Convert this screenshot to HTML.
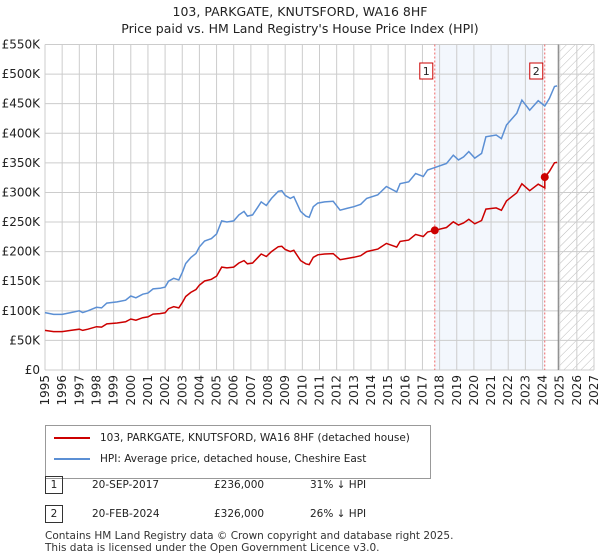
<!DOCTYPE html>
<html><head><meta charset="utf-8"><style>
body{margin:0;background:#fff;font-family:"DejaVu Sans","Liberation Sans",sans-serif;}
#wrap{position:relative;width:600px;height:560px;overflow:hidden;}
</style></head><body><div id="wrap">
<svg id="chart" width="600" height="560" style="position:absolute;left:0;top:0;font-family:'DejaVu Sans','Liberation Sans',sans-serif">
<defs><pattern id="hatch" width="6" height="6" patternUnits="userSpaceOnUse" patternTransform="rotate(45)"><line x1="0" y1="0" x2="0" y2="6" stroke="#bbb" stroke-width="1"/></pattern></defs>
<text x="300" y="16" text-anchor="middle" font-size="12.5" fill="#222">103, PARKGATE, KNUTSFORD, WA16 8HF</text>
<text x="300" y="33" text-anchor="middle" font-size="12.5" fill="#222">Price paid vs. HM Land Registry's House Price Index (HPI)</text>
<g id="plot"></g>
</svg>
<div style="position:absolute;left:45px;top:425px;width:386px;height:54px;border:1px solid #999;box-sizing:border-box;font-size:10.5px;color:#222">
 <div style="position:absolute;left:8px;top:6px;white-space:nowrap"><span style="display:inline-block;width:36px;height:2px;background:#cc0000;vertical-align:middle;margin-right:10px"></span>103, PARKGATE, KNUTSFORD, WA16 8HF (detached house)</div>
 <div style="position:absolute;left:8px;top:27px;white-space:nowrap"><span style="display:inline-block;width:36px;height:2px;background:#5b8fd4;vertical-align:middle;margin-right:10px"></span>HPI: Average price, detached house, Cheshire East</div>
</div>
<div style="font-size:10.5px;color:#222">
 <div style="position:absolute;left:45px;top:476px;width:16px;height:16px;border:1px solid #333;text-align:center;line-height:16px">1</div>
 <div style="position:absolute;left:92px;top:479px">20-SEP-2017</div>
 <div style="position:absolute;left:214px;top:479px">£236,000</div>
 <div style="position:absolute;left:310px;top:479px">31% ↓ HPI</div>
 <div style="position:absolute;left:45px;top:505px;width:16px;height:16px;border:1px solid #333;text-align:center;line-height:16px">2</div>
 <div style="position:absolute;left:92px;top:508px">20-FEB-2024</div>
 <div style="position:absolute;left:214px;top:508px">£326,000</div>
 <div style="position:absolute;left:310px;top:508px">26% ↓ HPI</div>
</div>
<div style="position:absolute;left:45px;top:530px;font-size:10.5px;color:#333;line-height:12px;white-space:nowrap">Contains HM Land Registry data © Crown copyright and database right 2025.<br>This data is licensed under the Open Government Licence v3.0.</div>
</div>
<script>
const hpiYears=[1995,1995.5,1996,1996.5,1997,1997.2,1997.5,1998,1998.3,1998.6,1999.2,1999.7,2000,2000.3,2000.7,2001,2001.3,2001.7,2002,2002.2,2002.5,2002.8,2003,2003.2,2003.5,2003.8,2004,2004.3,2004.7,2005,2005.3,2005.6,2006,2006.3,2006.6,2006.8,2007.1,2007.4,2007.6,2007.9,2008.2,2008.6,2008.8,2009,2009.3,2009.5,2009.9,2010.2,2010.4,2010.64,2010.9,2011.3,2011.8,2012.2,2012.6,2013,2013.4,2013.75,2014.4,2014.9,2015.5,2015.7,2016.2,2016.6,2017.05,2017.3,2017.72,2018.4,2018.8,2019.1,2019.4,2019.7,2020.05,2020.45,2020.7,2021.3,2021.6,2021.9,2022.5,2022.8,2023.25,2023.75,2024.13,2024.4,2024.7,2024.85];
const hpiValues=[97,94,94,97,100,97,100,106,105,113,115,118,125,122,128,130,137,138,140,150,155,152,165,180,190,197,208,218,222,230,252,250,252,262,268,260,262,275,284,278,290,302,303,295,290,293,268,260,258,276,282,284,285,270,273,276,280,290,296,310,301,315,318,332,327,338,342,349,363,355,360,369,358,366,394,397,391,414,434,456,439,455,446,459,479,480];
const saleYears=[2017.72,2024.13];
const saleValues=[236,326];
const saleLabels=["1","2"];
const yTicks=[0,50,100,150,200,250,300,350,400,450,500,550];
const yTickLabels=["£0","£50K","£100K","£150K","£200K","£250K","£300K","£350K","£400K","£450K","£500K","£550K"];
const xTicks=[1995,1996,1997,1998,1999,2000,2001,2002,2003,2004,2005,2006,2007,2008,2009,2010,2011,2012,2013,2014,2015,2016,2017,2018,2019,2020,2021,2022,2023,2024,2025,2026,2027];
const dataEnd=2024.92;
const X0=45,X1=594,Y0=370,Y1=44.5;
const sx=y=>X0+(y-1995)/32*(X1-X0);
const sy=v=>Y0-v/550*(Y0-Y1);
const NS="http://www.w3.org/2000/svg";
const g=document.getElementById('plot');
function mk(t,a,p){const e=document.createElementNS(NS,t);for(const k in a)e.setAttribute(k,a[k]);(p||g).appendChild(e);return e;}
let r=mk('rect',{x:sx(saleYears[0]),y:Y1,width:sx(saleYears[1])-sx(saleYears[0]),height:Y0-Y1,fill:'#eef3fc',opacity:0.7});

r=mk('rect',{x:sx(dataEnd),y:Y1,width:X1-sx(dataEnd),height:Y0-Y1,fill:'url(#hatch)'});

yTicks.forEach((t,i)=>{const l=mk('line',{x1:X0,x2:X1,y1:sy(t),y2:sy(t),stroke:'#ccc'});

const tx=mk('text',{x:X0-5,y:sy(t)+4,'text-anchor':'end','font-size':12,fill:'#222'});tx.textContent=yTickLabels[i];
});
xTicks.forEach(t=>{const l=mk('line',{x1:sx(t),x2:sx(t),y1:Y1,y2:Y0,stroke:'#ccc'});

const tx=mk('text',{x:0,y:0,'text-anchor':'end','font-size':12,fill:'#222',transform:`translate(${sx(t)+4},${Y0+5}) rotate(-90)`});tx.textContent=t;
});
let dl=mk('line',{x1:sx(dataEnd),x2:sx(dataEnd),y1:Y1,y2:Y0,stroke:'#888','stroke-width':1.2});

saleYears.forEach((y,i)=>{const l=mk('line',{x1:sx(y),x2:sx(y),y1:Y1,y2:Y0,stroke:'#e66','stroke-dasharray':'2,2'});

const b=mk('rect',{x:sx(y)-15,y:63,width:13,height:16,fill:'#fff',stroke:'#cc0000'});

const t=mk('text',{x:sx(y)-8.5,y:75,'text-anchor':'middle','font-size':11,fill:'#222'});t.textContent=saleLabels[i];
});
let d=hpiYears.map((y,i)=>(i?'L':'M')+sx(y).toFixed(1)+','+sy(hpiValues[i]).toFixed(1)).join('');
let p=mk('path',{d:d,fill:'none',stroke:'#5b8fd4','stroke-width':1.5});

function hpiAt(y){for(let i=1;i<hpiYears.length;i++){if(hpiYears[i]>=y){const f=(y-hpiYears[i-1])/(hpiYears[i]-hpiYears[i-1]);return hpiValues[i-1]+f*(hpiValues[i]-hpiValues[i-1]);}}return hpiValues[hpiValues.length-1];}
const r1=saleValues[0]/hpiAt(saleYears[0]),r2=saleValues[1]/hpiAt(saleYears[1]);
let pts=[];hpiYears.forEach((y,i)=>{if(y<saleYears[1])pts.push([y,hpiValues[i]*r1]);});
pts.push([saleYears[1],hpiAt(saleYears[1])*r1]);pts.push([saleYears[1],saleValues[1]]);
hpiYears.forEach((y,i)=>{if(y>saleYears[1])pts.push([y,hpiValues[i]*r2]);});
d=pts.map((q,i)=>(i?'L':'M')+sx(q[0]).toFixed(1)+','+sy(q[1]).toFixed(1)).join('');
p=mk('path',{d:d,fill:'none',stroke:'#cc0000','stroke-width':1.5});

saleYears.forEach((y,i)=>{const c=mk('circle',{cx:sx(y),cy:sy(saleValues[i]),r:4,fill:'#cc0000'});
});
</script></body></html>
